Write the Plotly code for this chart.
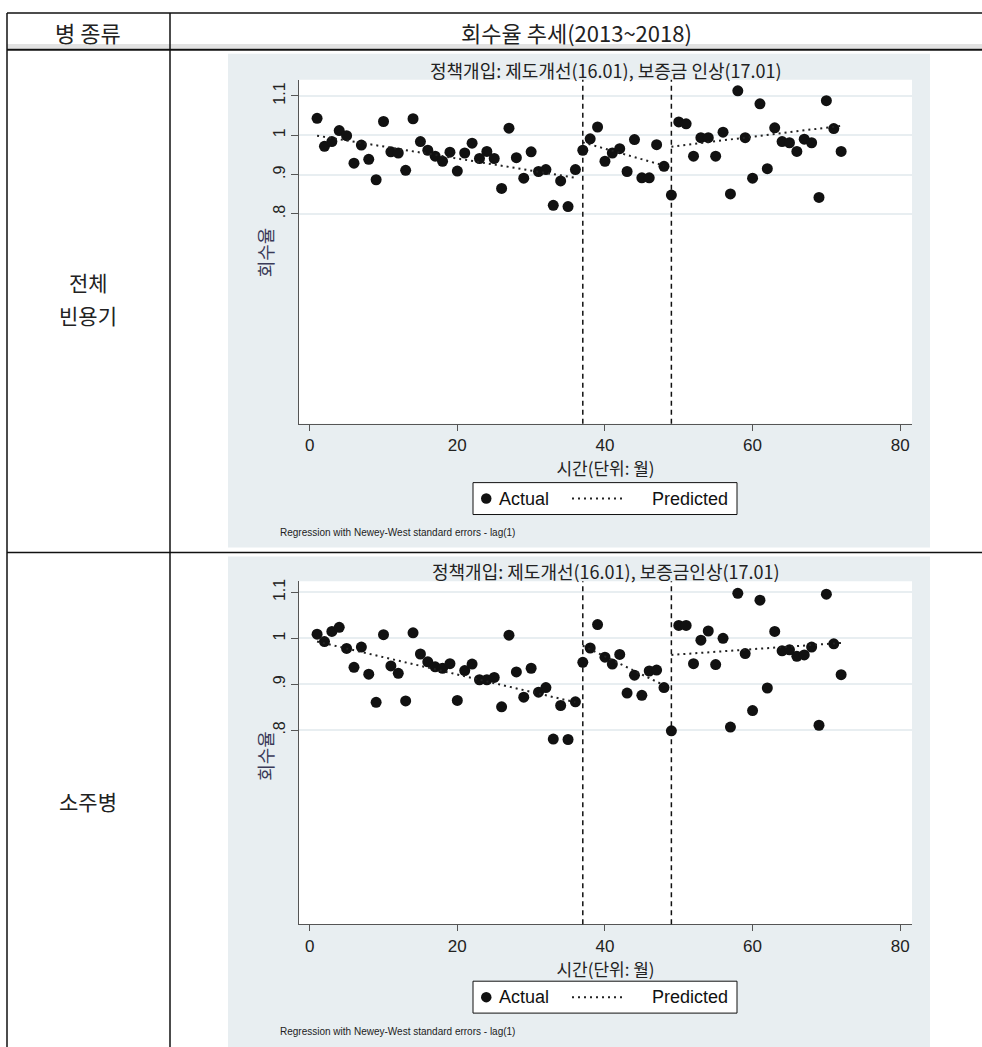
import plotly.graph_objects as go

# ---------------- data ----------------
months = list(range(1, 73))

rate_all = [1.043, 0.972, 0.984, 1.012, 0.999, 0.929, 0.975, 0.939, 0.887, 1.035,
            0.958, 0.955, 0.911, 1.042, 0.984, 0.962, 0.947, 0.934, 0.957, 0.909,
            0.955, 0.980, 0.941, 0.959, 0.941, 0.865, 1.018, 0.943, 0.891, 0.958,
            0.908, 0.913, 0.822, 0.884, 0.819, 0.913, 0.962, 0.991, 1.021, 0.934,
            0.955, 0.966, 0.908, 0.989, 0.892, 0.892, 0.976, 0.921, 0.848, 1.034,
            1.029, 0.947, 0.994, 0.994, 0.947, 1.008, 0.851, 1.113, 0.994, 0.891,
            1.080, 0.915, 1.019, 0.984, 0.981, 0.959, 0.990, 0.981, 0.842, 1.088,
            1.017, 0.959]

rate_soju = [1.009, 0.993, 1.015, 1.024, 0.978, 0.937, 0.981, 0.922, 0.861, 1.008,
             0.940, 0.924, 0.864, 1.012, 0.966, 0.949, 0.938, 0.935, 0.945, 0.865,
             0.930, 0.944, 0.910, 0.910, 0.915, 0.851, 1.007, 0.927, 0.872, 0.935,
             0.883, 0.893, 0.781, 0.854, 0.780, 0.862, 0.948, 0.979, 1.030, 0.959,
             0.944, 0.965, 0.881, 0.920, 0.876, 0.929, 0.931, 0.893, 0.799, 1.028,
             1.028, 0.945, 0.996, 1.016, 0.943, 1.000, 0.807, 1.098, 0.967, 0.843,
             1.083, 0.892, 1.015, 0.973, 0.975, 0.961, 0.964, 0.981, 0.811, 1.096,
             0.988, 0.921]

# predicted segments (endpoints of each fitted segment, None = break)
pred_x = [1, 36, None, 37, 48, None, 49, 72]
pred_all_y = [0.999, 0.892, None, 0.982, 0.923, None, 0.971, 1.024]
pred_soju_y = [0.993, 0.861, None, 0.984, 0.898, None, 0.964, 0.990]

interventions = [37, 49]

x_ticks = [0, 20, 40, 60, 80]
y_ticks = [0.8, 0.9, 1.0, 1.1]
y_ticktext = [".8", ".9", "1", "1.1"]

row_labels = [["전체", "빈용기"], ["소주병"]]
header_labels = ["병 종류", "회수율 추세(2013~2018)"]
chart_titles = ["정책개입: 제도개선(16.01), 보증금 인상(17.01)",
                "정책개입: 제도개선(16.01), 보증금인상(17.01)"]
x_title = "시간(단위: 월)"
y_title = "회수율"
legend_labels = ["Actual", "Predicted"]
note_text = "Regression with Newey-West standard errors - lag(1)"

# ---------------- geometry helpers ----------------
W, H = 982, 1047
def px(x):
    return x / W
def py(y):
    return 1 - y / H

KR = "Noto Sans CJK KR, Noto Sans, sans-serif"
LAT = "Liberation Sans, Arial, sans-serif"
PANEL = "#e8eef1"
AXC = "#555555"
TXT = "#222222"

charts = [
    dict(panel=(228, 51, 930, 546), plot=(299, 77, 912, 422), yr=[0.267, 1.141],
         title_y=67, leg=(473, 481, 737, 513), note_y=531, ytitle_y=250),
    dict(panel=(228, 555, 930, 1047), plot=(299, 580, 912, 924), yr=[0.378, 1.124],
         title_y=570, leg=(473, 981, 737, 1013), note_y=1031, ytitle_y=755),
]

fig = go.Figure()
series = [rate_all, rate_soju]
preds = [pred_all_y, pred_soju_y]

for i, ch in enumerate(charts):
    sfx = "" if i == 0 else str(i + 1)
    fig.add_trace(go.Scatter(
        x=months, y=series[i], mode="markers", name=legend_labels[0],
        marker=dict(color="#111111", size=11, line=dict(width=0)),
        xaxis="x" + sfx, yaxis="y" + sfx, showlegend=False))
    fig.add_trace(go.Scatter(
        x=pred_x, y=preds[i], mode="lines", name=legend_labels[1],
        line=dict(color="#222222", width=2, dash="2px,4px"),
        connectgaps=False,
        xaxis="x" + sfx, yaxis="y" + sfx, showlegend=False))

shapes = []
annotations = []
layout_axes = {}

for i, ch in enumerate(charts):
    sfx = "" if i == 0 else str(i + 1)
    x0, y0, x1, y1 = ch["panel"]
    shapes.append(dict(type="rect", xref="paper", yref="paper",
                       x0=px(x0), x1=px(x1), y0=py(y1), y1=py(y0),
                       fillcolor=PANEL, line=dict(width=0), layer="below"))
    p0, q0, p1, q1 = ch["plot"]
    shapes.append(dict(type="rect", xref="paper", yref="paper",
                       x0=px(p0), x1=px(p1), y0=py(q1), y1=py(q0),
                       fillcolor="white", line=dict(width=0), layer="below"))
    for xv in interventions:
        shapes.append(dict(type="line", xref="x" + sfx, yref="y" + sfx + " domain",
                           x0=xv, x1=xv, y0=0, y1=1,
                           line=dict(color="#111111", width=1.5, dash="5px,4px")))
    layout_axes["xaxis" + sfx] = dict(
        domain=[px(p0), px(p1)], anchor="y" + sfx, range=[-1.45, 81.6],
        tickvals=x_ticks, ticks="outside", ticklen=6, tickcolor=AXC, tickwidth=1,
        showline=True, linecolor=AXC, linewidth=1.2, showgrid=False, zeroline=False,
        tickfont=dict(family=LAT, size=17, color=TXT),
        title=dict(text=x_title, font=dict(family=KR, size=17, color=TXT), standoff=2),
    )
    layout_axes["yaxis" + sfx] = dict(
        domain=[py(q1), py(q0)], anchor="x" + sfx, range=ch["yr"],
        tickvals=y_ticks, ticktext=y_ticktext, tickangle=-90,
        ticks="outside", ticklen=7, tickcolor=AXC, tickwidth=1,
        showline=True, linecolor=AXC, linewidth=1.2,
        showgrid=True, gridcolor=PANEL, gridwidth=1.5, zeroline=False,
        tickfont=dict(family=LAT, size=16, color=TXT),
    )
    # y-axis title
    annotations.append(dict(text=y_title, xref="paper", yref="paper",
                            x=px(265), y=py(ch["ytitle_y"]), textangle=-90,
                            xanchor="center", yanchor="middle", showarrow=False,
                            font=dict(family=KR, size=18, color="#3a3a58")))
    # chart title
    annotations.append(dict(text=chart_titles[i], xref="paper", yref="paper",
                            x=px((p0 + p1) / 2), y=py(ch["title_y"]),
                            xanchor="center", yanchor="middle", showarrow=False,
                            font=dict(family=KR, size=18, color=TXT)))
    # note
    annotations.append(dict(text=note_text, xref="paper", yref="paper",
                            x=px(278), y=py(ch["note_y"]), xanchor="left", yanchor="middle",
                            showarrow=False, font=dict(family=LAT, size=10, color=TXT)))
    # legend (Stata style boxed legend)
    l0, m0, l1, m1 = ch["leg"]
    cy = (m0 + m1) / 2
    shapes.append(dict(type="rect", xref="paper", yref="paper",
                       x0=px(l0), x1=px(l1), y0=py(m1), y1=py(m0),
                       fillcolor="white", line=dict(color="#111111", width=1)))
    shapes.append(dict(type="circle", xref="paper", yref="paper",
                       x0=px(l0 + 8), x1=px(l0 + 18.5), y0=py(cy + 5.25), y1=py(cy - 5.25),
                       fillcolor="#111111", line=dict(width=0)))
    shapes.append(dict(type="line", xref="paper", yref="paper",
                       x0=px(l0 + 99), x1=px(l0 + 150), y0=py(cy), y1=py(cy),
                       line=dict(color="#222222", width=2, dash="2px,4px")))
    annotations.append(dict(text=legend_labels[0], xref="paper", yref="paper",
                            x=px(l0 + 24), y=py(cy), xanchor="left", yanchor="middle",
                            showarrow=False, font=dict(family=LAT, size=18, color="#111111")))
    annotations.append(dict(text=legend_labels[1], xref="paper", yref="paper",
                            x=px(l0 + 177), y=py(cy), xanchor="left", yanchor="middle",
                            showarrow=False, font=dict(family=LAT, size=18, color="#111111")))

# ---------------- table ----------------
shapes.append(dict(type="rect", xref="paper", yref="paper", x0=px(7), x1=1,
                   y0=py(46), y1=py(41), fillcolor="#e2e2e2", line=dict(width=0)))
for yy, wdt in [(10, 1.5), (47, 2), (551, 1.5)]:
    shapes.append(dict(type="line", xref="paper", yref="paper", x0=px(7), x1=1,
                       y0=py(yy), y1=py(yy), line=dict(color="#111111", width=wdt)))
for xx in [7, 170]:
    shapes.append(dict(type="line", xref="paper", yref="paper", x0=px(xx), x1=px(xx),
                       y0=0, y1=py(10), line=dict(color="#111111", width=1.5)))

def cell_text(text, x, y, size=21):
    annotations.append(dict(text=text, xref="paper", yref="paper",
                            x=px(x), y=py(y), showarrow=False,
                            xanchor="center", yanchor="middle",
                            font=dict(family=KR, size=size, color=TXT)))

cell_text(header_labels[0], 88, 29, 22)
cell_text(header_labels[1], 576, 29, 22)
cell_text(row_labels[0][0], 88, 280)
cell_text(row_labels[0][1], 88, 313)
cell_text(row_labels[1][0], 88, 800)

fig.update_layout(
    width=W, height=H, margin=dict(l=0, r=0, t=0, b=0),
    paper_bgcolor="white", plot_bgcolor="white",
    shapes=shapes, annotations=annotations, showlegend=False,
    **layout_axes,
)

fig.write_html(
    "out.html",
    config=dict(displayModeBar=False),
    post_script="document.body.style.margin='0px';document.body.style.padding='0px';"
                "document.documentElement.style.overflow='hidden';",
)
